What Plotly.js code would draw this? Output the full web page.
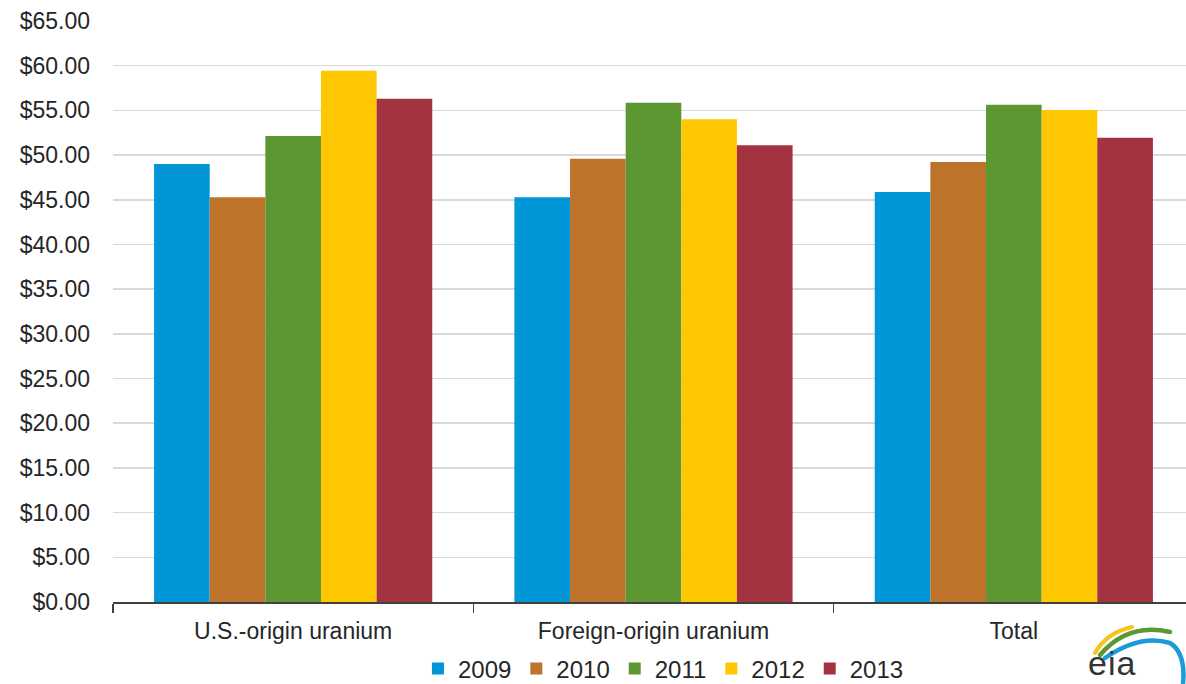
<!DOCTYPE html>
<html>
<head>
<meta charset="utf-8">
<script src="https://cdn.plot.ly/plotly-3.0.1.min.js"></script>
<style>
html,body{margin:0;padding:0;background:#fff;overflow:hidden;}
#chart{width:1186px;height:684px;position:absolute;left:0;top:0;}
#logo{position:absolute;left:0;top:0;pointer-events:none;}
</style>
</head>
<body>
<div id="chart"></div>
<svg id="logo" width="1186" height="684" xmlns="http://www.w3.org/2000/svg">
  <path d="M1095,653 Q1106,633 1132,627" stroke="#F7C21A" stroke-width="4" fill="none" stroke-linecap="round"/>
  <path d="M1100,655 Q1128,622 1170,632" stroke="#5D9732" stroke-width="4.5" fill="none" stroke-linecap="round"/>
  <path d="M1105,658 Q1140,634 1170,643 Q1186,653 1183,684" stroke="#1B9BD7" stroke-width="4.5" fill="none" stroke-linecap="round"/>
  <text x="1088" y="675" font-family="Liberation Sans, Arial, sans-serif" font-size="34" fill="#333333" letter-spacing="1">eia</text>
</svg>
<script>
var categories = ["U.S.-origin uranium", "Foreign-origin uranium", "Total"];
var years = ["2009", "2010", "2011", "2012", "2013"];
var v2009 = [49.00, 45.28, 45.87];
var v2010 = [45.28, 49.60, 49.23];
var v2011 = [52.13, 55.86, 55.64];
var v2012 = [59.44, 54.00, 55.04];
var v2013 = [56.31, 51.10, 51.95];
var seriesValues = [v2009, v2010, v2011, v2012, v2013];
var colors = ["#0096D7", "#BD732A", "#5D9732", "#FFC702", "#A33340"];

var traces = years.map(function(y, i){
  return {
    type: "bar",
    name: y,
    x: categories,
    y: seriesValues[i],
    marker: {color: colors[i], line: {width: 0}},
    hoverinfo: "x+y+name"
  };
});

var plotW = 1186 - 113;
var catW = (1194 - 113) / 3;

var layout = {
  width: 1186,
  height: 684,
  margin: {l: 113, r: 0, t: 21, b: 82, autoexpand: false},
  paper_bgcolor: "#ffffff",
  plot_bgcolor: "#ffffff",
  barmode: "group",
  bargap: 0.228,
  bargroupgap: 0,
  font: {family: "Liberation Sans, Arial, sans-serif", size: 23, color: "#262626"},
  showlegend: true,
  legend: {
    orientation: "h",
    x: 0.513,
    xanchor: "center",
    y: -0.115,
    yanchor: "middle",
    font: {size: 24, color: "#262626"},
    itemclick: false,
    traceorder: "normal"
  },
  xaxis: {
    type: "category",
    range: [-0.5, -0.5 + plotW / catW],
    autorange: false,
    tickson: "boundaries",
    ticks: "outside",
    ticklen: 9,
    tickwidth: 1.5,
    tickcolor: "#404040",
    showline: true,
    linecolor: "#404040",
    linewidth: 1.5,
    showgrid: false,
    zeroline: false,
    ticklabelstandoff: 8,
    tickfont: {size: 23, color: "#262626"},
    fixedrange: true
  },
  yaxis: {
    range: [0, 65],
    autorange: false,
    dtick: 5,
    tick0: 0,
    tickprefix: "$",
    tickformat: ".2f",
    showgrid: true,
    gridcolor: "#d9d9d9",
    gridwidth: 1.5,
    zeroline: false,
    showline: false,
    ticks: "",
    ticklabelstandoff: 22,
    tickfont: {size: 23, color: "#262626"},
    fixedrange: true
  }
};

Plotly.newPlot("chart", traces, layout, {displayModeBar: false, staticPlot: true});
</script>
</body>
</html>
